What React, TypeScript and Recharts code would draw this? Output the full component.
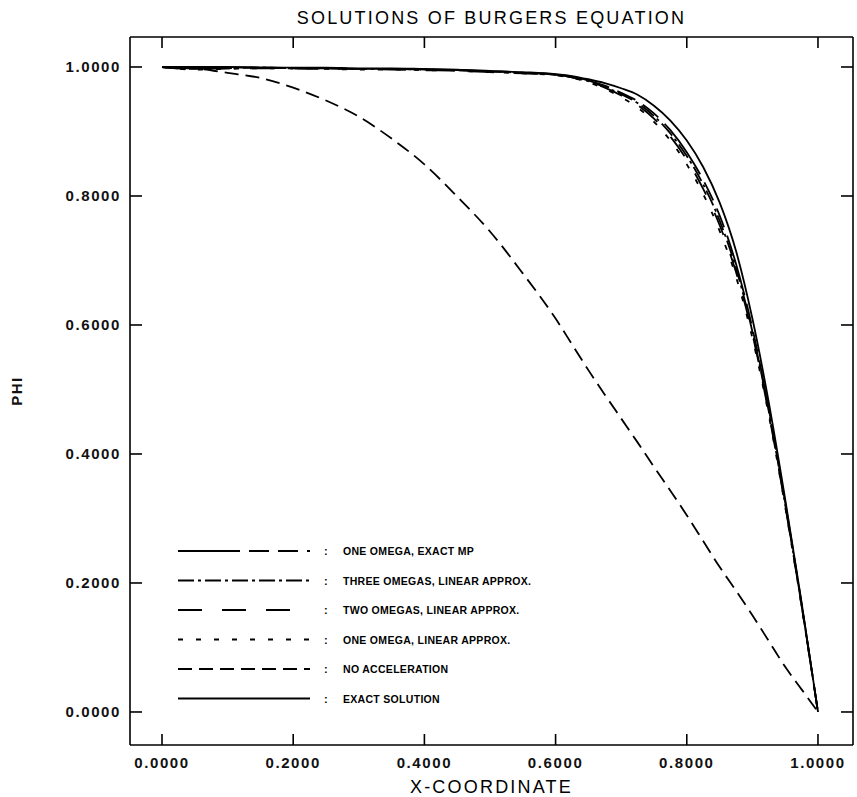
import React from 'react';
import {
  LineChart,
  Line,
  XAxis,
  YAxis,
  Legend,
  Label,
} from 'recharts';

// x positions shared by every series
const xs = [
  0, 0.05, 0.1, 0.15, 0.2, 0.25, 0.3, 0.35, 0.4, 0.45, 0.5, 0.55,
  0.6, 0.625, 0.65, 0.675, 0.7, 0.725, 0.75, 0.775, 0.8, 0.825, 0.85,
  0.875, 0.9, 0.925, 0.95, 0.975, 1.0,
];

const exactSolution = [
  1.0, 1.0, 1.0, 0.9995, 0.999, 0.999, 0.998, 0.998, 0.997, 0.996, 0.994, 0.992,
  0.989, 0.986, 0.981, 0.975, 0.967, 0.957, 0.94, 0.917, 0.886, 0.845, 0.79,
  0.715, 0.61, 0.48, 0.33, 0.17, 0.0,
];

const noAcceleration = [
  1.0, 0.998, 0.991, 0.983, 0.968, 0.948, 0.923, 0.889, 0.849, 0.799, 0.745, 0.68,
  0.61, 0.57, 0.53, 0.492, 0.455, 0.418, 0.38, 0.343, 0.305, 0.265, 0.225,
  0.188, 0.15, 0.11, 0.07, 0.035, 0.0,
];

const oneOmegaExactMp = [
  1.0, 0.998, 0.999, 0.999, 0.998, 0.998, 0.997, 0.997, 0.996, 0.995, 0.993, 0.991,
  0.988, 0.985, 0.979, 0.971, 0.96, 0.947, 0.928, 0.902, 0.868, 0.825, 0.77,
  0.695, 0.595, 0.47, 0.325, 0.168, 0.0,
];

const threeOmegas = [
  1.0, 0.997, 0.998, 0.999, 0.998, 0.998, 0.997, 0.997, 0.996, 0.995, 0.993, 0.991,
  0.988, 0.984, 0.978, 0.969, 0.958, 0.944, 0.924, 0.897, 0.862, 0.818, 0.762,
  0.688, 0.59, 0.466, 0.322, 0.166, 0.0,
];

const twoOmegas = [
  1.0, 0.997, 0.998, 0.998, 0.998, 0.997, 0.997, 0.996, 0.995, 0.994, 0.992, 0.99,
  0.988, 0.984, 0.977, 0.968, 0.956, 0.941, 0.92, 0.892, 0.856, 0.811, 0.755,
  0.682, 0.586, 0.463, 0.32, 0.165, 0.0,
];

const oneOmegaLinear = [
  1.0, 0.996, 0.997, 0.998, 0.998, 0.997, 0.996, 0.996, 0.995, 0.994, 0.992, 0.99,
  0.987, 0.983, 0.976, 0.966, 0.953, 0.937, 0.915, 0.886, 0.849, 0.803, 0.746,
  0.675, 0.58, 0.46, 0.318, 0.164, 0.0,
];

const tickValues = [0, 0.2, 0.4, 0.6, 0.8, 1.0];

const series = [
  { key: 'oneExactMp', name: 'ONE OMEGA, EXACT MP', dash: '62 9 20 9 20 9' },
  { key: 'three', name: 'THREE OMEGAS, LINEAR APPROX.', dash: '16 4 3 4' },
  { key: 'two', name: 'TWO OMEGAS, LINEAR APPROX.', dash: '24 20' },
  { key: 'oneLinear', name: 'ONE OMEGA, LINEAR APPROX.', dash: '5 13' },
  { key: 'noAccel', name: 'NO ACCELERATION', dash: '14 7' },
  { key: 'exact', name: 'EXACT SOLUTION', dash: undefined },
];

const data = xs.map((x, i) => ({
  x,
  exact: exactSolution[i],
  noAccel: noAcceleration[i],
  oneExactMp: oneOmegaExactMp[i],
  three: threeOmegas[i],
  two: twoOmegas[i],
  oneLinear: oneOmegaLinear[i],
}));

const FONT = '"Liberation Sans", Arial, sans-serif';
const fmt = (v: number) => v.toFixed(4);

const tickText = {
  fontFamily: FONT,
  fontSize: 15,
  fontWeight: 'bold' as const,
  letterSpacing: 1.6,
  fill: '#111',
};

const BottomTick = (props: any) => {
  const { x, y, payload } = props;
  return (
    <g>
      <line x1={x} y1={y} x2={x} y2={y - 11} stroke="#000" strokeWidth={1.6} />
      <text x={x} y={y + 23} textAnchor="middle" {...tickText}>{fmt(payload.value)}</text>
    </g>
  );
};

const TopTick = (props: any) => {
  const { x, y } = props;
  return <line x1={x} y1={y} x2={x} y2={y + 11} stroke="#000" strokeWidth={1.6} />;
};

const LeftTick = (props: any) => {
  const { x, y, payload } = props;
  return (
    <g>
      <line x1={x} y1={y} x2={x + 12} y2={y} stroke="#000" strokeWidth={1.6} />
      <text x={x - 9} y={y + 5} textAnchor="end" {...tickText}>{fmt(payload.value)}</text>
    </g>
  );
};

const RightTick = (props: any) => {
  const { x, y } = props;
  return <line x1={x} y1={y} x2={x - 12} y2={y} stroke="#000" strokeWidth={1.6} />;
};

const LegendBox = () => (
  <svg width={380} height={180}>
    {series.map((s, i) => {
      const y = 14 + i * 29.5;
      return (
        <g key={s.key}>
          <line x1={0} y1={y} x2={132} y2={y} stroke="#000" strokeWidth={1.8} strokeDasharray={s.dash} />
          <text x={146} y={y + 4} fontFamily={FONT} fontSize={11} fontWeight="bold" fill="#000">:</text>
          <text x={165} y={y + 4} fontFamily={FONT} fontSize={10.5} fontWeight="bold" letterSpacing={0.3} fill="#000">
            {s.name}
          </text>
        </g>
      );
    })}
  </svg>
);

const PhiLabel = (props: any) => {
  const vb = props.viewBox || { x: 0, y: 37, width: 130, height: 708 };
  const cy = vb.y + vb.height / 2;
  return (
    <text
      x={22}
      y={cy}
      transform={`rotate(-90, 22, ${cy})`}
      textAnchor="middle"
      fontFamily={FONT}
      fontSize={15}
      fontWeight="bold"
      letterSpacing={1.5}
      fill="#111"
    >
      PHI
    </text>
  );
};

const titleStyle = { fontFamily: FONT, fontSize: 18, letterSpacing: 2.2, fill: '#000' };

export default function App() {
  const xDomain: [number, number] = [-0.0488, 1.0534];
  const yDomain: [number, number] = [-0.0512, 1.0465];
  return (
    <div style={{ position: 'absolute', left: 0, top: 0, background: '#fff' }}>
      <LineChart width={857} height={797} data={data} margin={{ top: 0, right: 0, bottom: 0, left: 0 }}>
        <XAxis
          dataKey="x"
          type="number"
          domain={xDomain}
          allowDataOverflow
          ticks={tickValues}
          interval={0}
          height={52}
          tickSize={0}
          tickMargin={0}
          tickLine={false}
          tick={BottomTick}
          axisLine={{ stroke: '#000', strokeWidth: 1.6 }}
        >
          <Label value="X-COORDINATE" position="insideBottom" offset={4} style={titleStyle} />
        </XAxis>
        <XAxis
          xAxisId="top"
          orientation="top"
          dataKey="x"
          type="number"
          domain={xDomain}
          allowDataOverflow
          ticks={tickValues}
          interval={0}
          height={37}
          tickSize={0}
          tickMargin={0}
          tickLine={false}
          tick={TopTick}
          axisLine={{ stroke: '#000', strokeWidth: 1.6 }}
        >
          <Label value="SOLUTIONS OF BURGERS EQUATION" position="center" dy={-1} style={titleStyle} />
        </XAxis>
        <YAxis
          type="number"
          domain={yDomain}
          allowDataOverflow
          ticks={tickValues}
          interval={0}
          width={130}
          tickSize={0}
          tickMargin={0}
          tickLine={false}
          tick={LeftTick}
          axisLine={{ stroke: '#000', strokeWidth: 1.6 }}
        >
          <Label content={PhiLabel} />
        </YAxis>
        <YAxis
          yAxisId="right"
          orientation="right"
          type="number"
          domain={yDomain}
          allowDataOverflow
          ticks={tickValues}
          interval={0}
          width={4}
          tickSize={0}
          tickMargin={0}
          tickLine={false}
          tick={RightTick}
          axisLine={{ stroke: '#000', strokeWidth: 1.6 }}
        />
        <Legend
          layout="vertical"
          align="center"
          verticalAlign="middle"
          wrapperStyle={{ left: 178, top: 537, width: 380, height: 180 }}
          content={LegendBox}
        />
        {series.map((s) => (
          <Line
            key={s.key}
            dataKey={s.key}
            name={s.name}
            type="monotone"
            stroke="#000"
            strokeWidth={1.8}
            strokeDasharray={s.dash}
            dot={false}
            activeDot={false}
            isAnimationActive={false}
          />
        ))}
      </LineChart>
    </div>
  );
}
